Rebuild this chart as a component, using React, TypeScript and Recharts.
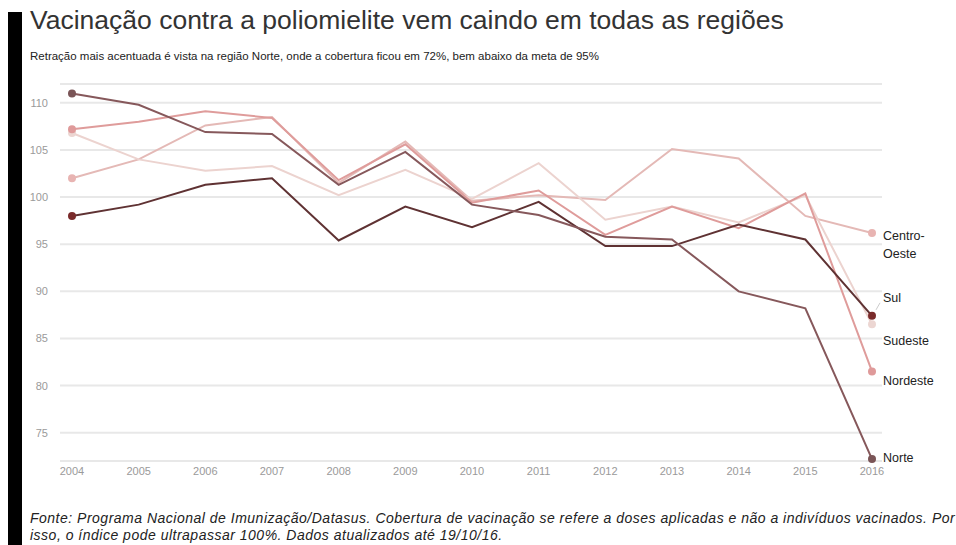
import { LineChart, Line, XAxis, YAxis, CartesianGrid } from 'recharts';

// ---------------------------------------------------------------------------
// Data (cobertura vacinal contra poliomielite, %)
// ---------------------------------------------------------------------------

const years = [
  '2004', '2005', '2006', '2007', '2008', '2009', '2010',
  '2011', '2012', '2013', '2014', '2015', '2016',
];

const norte = [111, 109.8, 106.9, 106.7, 101.3, 104.8, 99.2, 98.1, 95.8, 95.5, 90.0, 88.2, 72.2];
const sul = [98, 99.2, 101.3, 102, 95.4, 99, 96.8, 99.5, 94.8, 94.8, 97.1, 95.5, 87.4];
const nordeste = [107.2, 108, 109.1, 108.4, 101.8, 105.6, 99.4, 100.7, 96, 99, 96.7, 100.4, 81.5];
const sudeste = [106.8, 104, 102.8, 103.3, 100.2, 102.9, 99.8, 103.6, 97.6, 99, 97.3, 100.2, 86.5];
const centroOeste = [102, 104, 107.6, 108.5, 101.5, 105.9, 99.6, 100.2, 99.7, 105.1, 104.1, 98, 96.2];

const yTicks = [75, 80, 85, 90, 95, 100, 105, 110];

const seriesNames = ['Centro-Oeste', 'Sudeste', 'Nordeste', 'Sul', 'Norte'];
const seriesValues = [centroOeste, sudeste, nordeste, sul, norte];

const title = 'Vacinação contra a poliomielite vem caindo em todas as regiões';
const subtitle =
  'Retração mais acentuada é vista na região Norte, onde a cobertura ficou em 72%, bem abaixo da meta de 95%';
const footer1 =
  'Fonte: Programa Nacional de Imunização/Datasus. Cobertura de vacinação se refere a doses aplicadas e não a indivíduos vacinados. Por';
const footer2 = 'isso, o índice pode ultrapassar 100%. Dados atualizados até 19/10/16.';

// ---------------------------------------------------------------------------
// Styling per series
// ---------------------------------------------------------------------------

const styles: Record<string, { stroke: string; dot: string; labelDy: number; lines: string[] }> = {
  'Centro-Oeste': { stroke: '#e4b9b6', dot: '#e8b4b2', labelDy: 7, lines: ['Centro-', 'Oeste'] },
  Sudeste: { stroke: '#ecd3cf', dot: '#ecd6d2', labelDy: 21, lines: ['Sudeste'] },
  Nordeste: { stroke: '#df9c9b', dot: '#df9a9a', labelDy: 14, lines: ['Nordeste'] },
  Sul: { stroke: '#5f3233', dot: '#7a2b2b', labelDy: -14, lines: ['Sul'] },
  Norte: { stroke: '#86585b', dot: '#7a5557', labelDy: 3, lines: ['Norte'] },
};

const data = years.map((year, i) => {
  const row: Record<string, string | number> = { year };
  seriesNames.forEach((name, s) => {
    row[name] = seriesValues[s][i];
  });
  return row;
});

const FONT = '"Liberation Sans", Arial, Helvetica, sans-serif';
const last = years.length - 1;

function makeDot(name: string) {
  return (props: any) => {
    const { cx, cy, index } = props;
    if (index !== 0 && index !== last) return <g key={`${name}-d-${index}`} />;
    return <circle key={`${name}-d-${index}`} cx={cx} cy={cy} r={4} fill={styles[name].dot} />;
  };
}

function makeLabel(name: string) {
  return (props: any) => {
    const { x, y, index } = props;
    if (index !== last) return null;
    const st = styles[name];
    return (
      <g>
        {name === 'Sul' && (
          <line x1={x + 4} y1={y - 6} x2={x + 8} y2={y - 13} stroke="#ccc" strokeWidth={1} />
        )}
        <text x={x + 11} y={y + st.labelDy} fontSize={12.5} fill="#222" fontFamily={FONT}>
          {st.lines.map((l, k) => (
            <tspan key={k} x={x + 11} dy={k === 0 ? 0 : 18}>
              {l}
            </tspan>
          ))}
        </text>
      </g>
    );
  };
}

// ---------------------------------------------------------------------------
// Component
// ---------------------------------------------------------------------------

export default function App() {
  return (
    <div
      style={{
        position: 'absolute',
        left: 0,
        top: 0,
        width: 956,
        height: 545,
        background: '#fff',
        overflow: 'hidden',
        fontFamily: FONT,
      }}
    >
      <div style={{ position: 'absolute', left: 8, top: 12, width: 14, height: 533, background: '#000' }} />
      <div
        style={{
          position: 'absolute',
          left: 30,
          top: 5,
          fontSize: 26.5,
          color: '#333',
          whiteSpace: 'nowrap',
          fontWeight: 300,
        }}
      >
        {title}
      </div>
      <div style={{ position: 'absolute', left: 30, top: 50, fontSize: 11.5, color: '#222', whiteSpace: 'nowrap' }}>
        {subtitle}
      </div>

      <div style={{ position: 'absolute', left: 0, top: 0 }}>
        <LineChart width={956} height={490} data={data} margin={{ top: 84, right: 74, bottom: 9, left: 0 }}>
          <CartesianGrid vertical={false} stroke="#e8e8e8" strokeWidth={2} />
          <XAxis
            dataKey="year"
            padding={{ left: 12, right: 10 }}
            axisLine={false}
            tickLine={false}
            tickMargin={0}
            height={20}
            interval={0}
            tick={{ fontSize: 11, fill: '#9a9a9a', fontFamily: FONT }}
          />
          <YAxis
            domain={[72, 112]}
            ticks={yTicks}
            width={60}
            axisLine={false}
            tickLine={false}
            tickMargin={6}
            tick={{ fontSize: 11, fill: '#9a9a9a', fontFamily: FONT }}
          />
          {seriesNames.map((name) => (
            <Line
              key={name}
              type="linear"
              dataKey={name}
              stroke={styles[name].stroke}
              strokeWidth={2}
              dot={makeDot(name)}
              activeDot={false}
              label={makeLabel(name)}
              isAnimationActive={false}
            />
          ))}
        </LineChart>
      </div>

      <div
        style={{
          position: 'absolute',
          left: 30,
          top: 510,
          fontSize: 14,
          letterSpacing: 0.5,
          fontStyle: 'italic',
          color: '#222',
          lineHeight: '17px',
          whiteSpace: 'nowrap',
        }}
      >
        <div>{footer1}</div>
        <div>{footer2}</div>
      </div>
    </div>
  );
}
